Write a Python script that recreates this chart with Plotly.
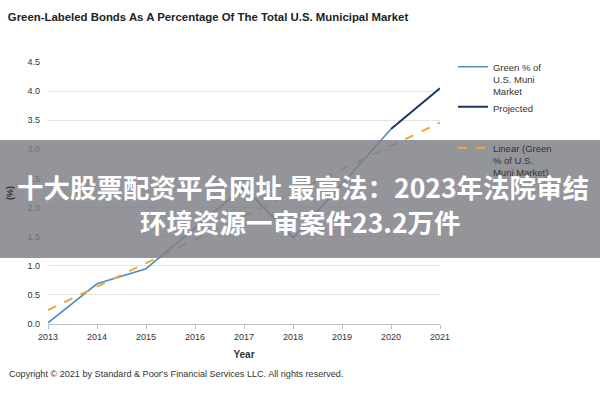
import plotly.graph_objects as go

years = [2013, 2014, 2015, 2016, 2017, 2018, 2019, 2020]
green_pct = [0.02, 0.69, 0.95, 1.65, 2.35, 1.48, 2.40, 3.35]
proj_years = [2020, 2021]
proj_pct = [3.35, 4.05]
lin_years = [2013, 2021]
lin_pct = [0.24, 3.46]

x_ticks = [2013, 2014, 2015, 2016, 2017, 2018, 2019, 2020, 2021]
y_ticks = [0.0, 0.5, 1.0, 1.5, 2.0, 2.5, 3.0, 3.5, 4.0, 4.5]

FONT = "Liberation Sans Narrow, Arial Narrow, Liberation Sans, Arial, sans-serif"

fig = go.Figure()
fig.add_trace(go.Scatter(x=years, y=green_pct, mode="lines", name="Green % of<br>U.S. Muni<br>Market",
                         line=dict(color="#4b8fc3", width=1.6), legendgroup="a"))
fig.add_trace(go.Scatter(x=proj_years, y=proj_pct, mode="lines", name="Projected",
                         line=dict(color="#17375e", width=2), legendgroup="a"))
fig.add_trace(go.Scatter(x=lin_years, y=lin_pct, mode="lines", name="Linear (Green<br>% of U.S.<br>Muni Market)",
                         line=dict(color="#e9ab3b", width=2, dash="dash"), legendgroup="b"))

fig.update_layout(
    width=600, height=400,
    margin=dict(l=48, r=160, t=62, b=76, autoexpand=False),
    plot_bgcolor="white", paper_bgcolor="white",
    font=dict(family=FONT, size=9, color="#333333"),
    title=dict(text="<b>Green-Labeled Bonds As A Percentage Of The Total U.S. Municipal Market</b>",
               x=0.013, xanchor="left", y=0.957, yanchor="middle",
               font=dict(family="Liberation Sans, Arial, sans-serif", size=11.4, color="#222222")),
    xaxis=dict(range=[2013, 2021], tickvals=x_ticks, showgrid=False, showline=True,
               linecolor="#bfbfbf", ticks="outside", tickcolor="#bfbfbf", ticklen=4,
               tickfont=dict(size=9, color="#333333"),
               title=dict(text="<b>Year</b>", font=dict(size=10, color="#333333"), standoff=10)),
    yaxis=dict(range=[0, 4.5], tickvals=y_ticks, tickformat=".1f", showgrid=True,
               gridcolor="#e3e3e3", zeroline=False, showline=False,
               tickfont=dict(size=9, color="#333333"), ticklabelstandoff=7,
               title=dict(text="<b>(%)</b>", font=dict(size=9, color="#333333"), standoff=12)),
    legend=dict(x=1.033, xanchor="left", y=1.03, yanchor="top", valign="top",
                font=dict(size=9.5, color="#333333"), tracegroupgap=22, itemwidth=30,
                bgcolor="rgba(0,0,0,0)"),
    showlegend=True,
)

fig.add_annotation(text="Copyright © 2021 by Standard & Poor's Financial Services LLC. All rights reserved.",
                   xref="paper", yref="paper", x=(7 - 48) / 392, xanchor="left", y=-0.19, yanchor="middle",
                   showarrow=False, font=dict(size=9.1, color="#333333"))

# overlay banner
fig.add_shape(type="rect", xref="paper", yref="paper", x0=-0.2, x1=1.5,
              y0=(324 - 258) / 262, y1=(324 - 140) / 262,
              fillcolor="rgba(125,126,132,0.82)", line=dict(width=0), layer="above")
fig.add_annotation(text="<b>十大股票配资平台网址 最高法：2023年法院审结</b>",
                   xref="paper", yref="paper", x=(303 - 48) / 392, y=(324 - 186) / 262,
                   showarrow=False, font=dict(family="Noto Sans CJK SC", size=26.5, color="white"))
fig.add_annotation(text="<b>环境资源一审案件23.2万件</b>",
                   xref="paper", yref="paper", x=(300 - 48) / 392, y=(324 - 221) / 262,
                   showarrow=False, font=dict(family="Noto Sans CJK SC", size=26.5, color="white"))

fig.write_html("out.html", config={"displayModeBar": False},
               post_script="document.body.style.margin='0';")
